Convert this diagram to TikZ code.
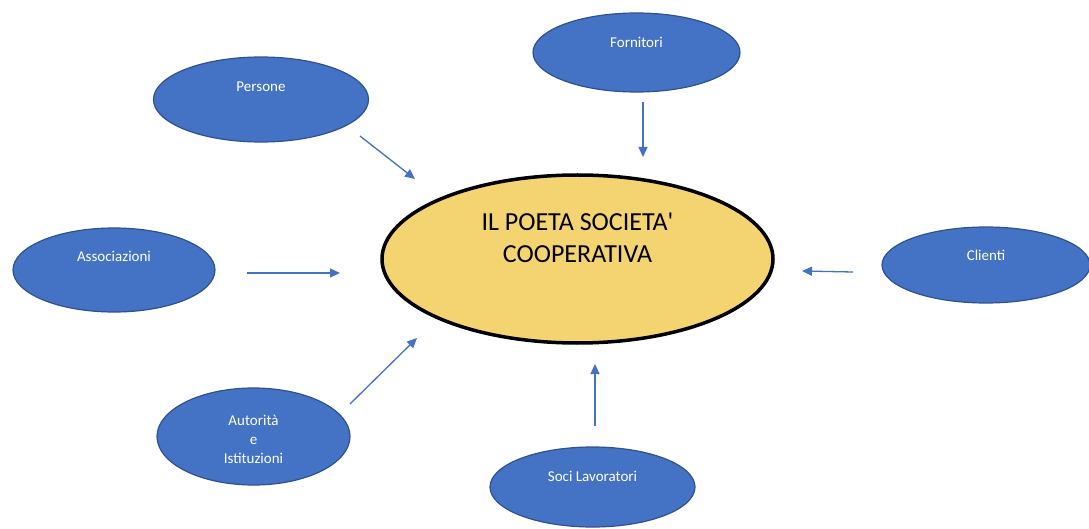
\documentclass[tikz,border=0pt]{standalone}
\usepackage{fontspec}
\setmainfont{Carlito}
\usetikzlibrary{shapes.geometric,arrows.meta}
\definecolor{ellblue}{HTML}{4472C4}
\definecolor{ellborder}{HTML}{2F528F}
\definecolor{coopyellow}{HTML}{F4D470}
\tikzset{
  blueell/.style={ellipse, draw=ellborder, line width=1.2pt, fill=ellblue, inner sep=0pt},
  coopell/.style={ellipse, draw=black, line width=3.5pt, fill=coopyellow, inner sep=0pt},
  lbl/.style={text=white, font=\fontsize{15}{19}\selectfont, align=center, inner sep=0pt},
  biglbl/.style={text=black, font=\fontsize{26}{32}\selectfont, align=center, inner sep=0pt},
  arr/.style={draw=ellblue, line width=1.3pt, -{Triangle[length=10pt,width=9pt]}}
}
\begin{document}
\begin{tikzpicture}[x=1pt,y=-1pt]
\useasboundingbox[fill=white] (0,0) rectangle (1089,529);
% satellite ellipses
\node[blueell, minimum width=215pt, minimum height=85pt] (pers) at (261,99.5) {};
\node[lbl] (perst) at (261,87) {Persone};
\node[blueell, minimum width=207pt, minimum height=79pt] (forn) at (636.5,52.5) {};
\node[lbl] (fornt) at (636.5,42) {Fornitori};
\node[blueell, minimum width=202pt, minimum height=84pt] (asso) at (114,270) {};
\node[lbl] (assot) at (114,256) {Associazioni};
\node[blueell, minimum width=208pt, minimum height=76pt] (clie) at (986,265) {};
\node[lbl] (cliet) at (986,255) {Clienti};
\node[blueell, minimum width=193pt, minimum height=97pt] (auto) at (253.5,436.5) {};
\node[lbl] (autot) at (253.5,439) {Autorità\\e\\Istituzioni};
\node[blueell, minimum width=205pt, minimum height=80pt] (soci) at (592.5,487) {};
\node[lbl] (socit) at (592.5,476) {Soci Lavoratori};
% central ellipse
\node[coopell, minimum width=391pt, minimum height=168pt] (coop) at (577.5,259) {};
\node[biglbl] (coopt) at (577.5,238) {IL POETA SOCIETA\textquotesingle\\COOPERATIVA};
% arrow end points
\coordinate (persA) at (360,136);  \coordinate (persB) at (415,179);
\coordinate (fornA) at (643,102);  \coordinate (fornB) at (643,157);
\coordinate (assoA) at (247,273);  \coordinate (assoB) at (340,273);
\coordinate (clieA) at (853,272);  \coordinate (clieB) at (802,271);
\coordinate (autoA) at (350,404);  \coordinate (autoB) at (417,338);
\coordinate (sociA) at (595,426);  \coordinate (sociB) at (595,364);
\draw[arr] (persA) -- (persB);
\draw[arr] (fornA) -- (fornB);
\draw[arr] (assoA) -- (assoB);
\draw[arr] (clieA) -- (clieB);
\draw[arr] (autoA) -- (autoB);
\draw[arr] (sociA) -- (sociB);
\end{tikzpicture}
\end{document}
